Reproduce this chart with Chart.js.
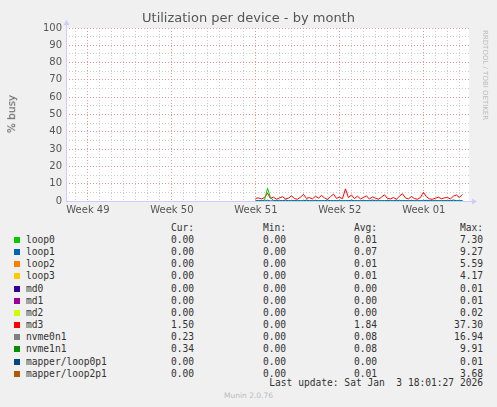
<!DOCTYPE html>
<html><head><meta charset="utf-8">
<script src="https://cdn.jsdelivr.net/npm/chart.js@4"></script>
<style>
body{margin:0;background:#f0f0f0;width:497px;height:407px;overflow:hidden;position:relative;font-family:"DejaVu Sans",sans-serif}
#wrap{position:absolute;left:0;top:0;width:497px;height:219px}
.t{position:absolute;white-space:pre;font-family:"DejaVu Sans Mono",monospace;font-size:9.6px;color:#333;line-height:12px}
.sq{position:absolute;width:6px;height:6px}
</style></head><body>
<div id="wrap"><canvas id="c"></canvas></div>
<div style="position:absolute;left:0;width:497px;top:10px;text-align:center;font-size:13px;color:#555">Utilization per device - by month</div>
<div style="position:absolute;left:-8px;top:108px;transform:rotate(-90deg);font-size:10.5px;color:#555">% busy</div>
<div style="position:absolute;left:481px;top:30px;writing-mode:vertical-rl;font-size:7px;color:#bbb">RRDTOOL / TOBI OETIKER</div>
<div id="leg"></div>
<div class="t" style="left:0;width:483px;text-align:right;top:377px">Last update: Sat Jan  3 18:01:27 2026</div>
<div style="position:absolute;left:0;width:497px;text-align:center;top:391px;font-size:7.5px;color:#bbb">Munin 2.0.76</div>
<script>
const devices=["loop0","loop1","loop2","loop3","md0","md1","md2","md3","nvme0n1","nvme1n1","mapper/loop0p1","mapper/loop2p1"];
const colors=["#00cc00","#0066b3","#ff8000","#ffcc00","#330099","#990099","#ccff00","#ff0000","#808080","#008f00","#00487d","#b35a00"];
const cur=["0.00","0.00","0.00","0.00","0.00","0.00","0.00","1.50","0.23","0.34","0.00","0.00"];
const mins=["0.00","0.00","0.00","0.00","0.00","0.00","0.00","0.00","0.00","0.00","0.00","0.00"];
const avgs=["0.01","0.07","0.01","0.01","0.00","0.00","0.00","1.84","0.08","0.08","0.00","0.01"];
const maxs=["7.30","9.27","5.59","4.17","0.01","0.01","0.02","37.30","16.94","9.91","0.01","3.68"];
const weekLabels=["Week 49","Week 50","Week 51","Week 52","Week 01"];
const weekDays=[1.83,8.83,15.83,22.83,29.83];
const startDay=15.8, stepDay=0.25;
const md3=[1.5,1.8,1.2,2.0,4.5,1.5,2.2,1.0,1.8,2.5,1.2,1.6,3.0,1.4,1.0,2.2,3.8,1.5,2.0,1.2,2.8,1.6,3.2,1.8,1.0,2.5,4.0,1.5,2.2,1.3,7.0,2.0,3.5,1.4,2.8,1.2,2.0,3.0,1.1,2.4,1.6,1.0,2.2,3.6,1.5,1.2,2.0,1.0,2.8,4.2,1.8,1.2,2.6,1.4,1.0,2.0,5.0,2.5,1.2,1.0,1.6,2.2,1.3,1.8,2.0,1.2,2.8,3.5,2.0,3.8];
const loop0=[0.2,0.3,0.2,0.5,7.3,2.0,0.3,0.2,0.2,0.3,0.2,0.2,0.2,0.3,0.2,0.2,0.2,0.4,0.2,0.2,0.2,0.3,0.2,0.2,0.2,0.2,0.3,0.2,0.2,0.2,0.2,0.3,0.2,0.2,0.2,0.2,0.2,0.3,0.2,0.2,0.2,0.2,0.2,0.2,0.3,0.2,0.2,0.2,0.2,0.2,0.3,0.2,0.2,0.2,0.2,0.2,0.2,0.3,0.2,0.2,0.2,0.2,0.2,0.2,0.3,0.2,0.2,0.2,0.2,0.2];
const loop1=[0.1,0.1,0.2,0.1,0.3,0.1,0.1,0.2,0.1,0.1,0.6,0.1,0.1,0.2,0.1,0.1,0.1,0.5,0.1,0.1,0.2,0.1,0.1,0.1,0.6,0.1,0.1,0.2,0.1,0.1,0.1,0.1,0.5,0.1,0.1,0.1,0.2,0.1,0.1,0.6,0.1,0.1,0.1,0.1,0.2,0.1,0.1,0.5,0.1,0.1,0.1,0.1,0.2,0.1,0.1,0.1,0.1,0.4,0.1,0.1,0.1,0.1,0.1,0.2,0.1,0.1,0.6,0.1,0.1,0.2];
const pts=a=>a.map((v,i)=>({x:startDay+i*stepDay,y:v}));
const ds=[["loop1",loop1],["loop0",loop0],["md3",md3]].map(([n,a])=>({label:n,data:pts(a),borderColor:colors[devices.indexOf(n)],borderWidth:1,pointRadius:0,tension:0}));
const plotBg={id:'bg',beforeDraw(c){const a=c.chartArea,x=c.ctx;x.save();x.fillStyle='#fff';x.fillRect(a.left,a.top,a.right-a.left,a.bottom-a.top);x.restore();},
 afterDraw(c){const a=c.chartArea,x=c.ctx;x.save();x.strokeStyle='#ccccff';x.lineWidth=1;x.beginPath();x.moveTo(a.left+0.5,a.top-6);x.lineTo(a.left+0.5,a.bottom+0.5);x.lineTo(a.right+6,a.bottom+0.5);x.stroke();
 x.fillStyle='#ccccff';x.beginPath();x.moveTo(a.left-2.5,a.top-3);x.lineTo(a.left+3.5,a.top-3);x.lineTo(a.left+0.5,a.top-8);x.fill();
 x.beginPath();x.moveTo(a.right+3,a.bottom-2.5);x.lineTo(a.right+3,a.bottom+3.5);x.lineTo(a.right+8,a.bottom+0.5);x.fill();x.restore();}};
new Chart(document.getElementById('c'),{type:'line',data:{datasets:ds},plugins:[plotBg],
options:{responsive:true,maintainAspectRatio:false,animation:false,
layout:{padding:{left:0,right:28,top:28,bottom:0}},
plugins:{legend:{display:false},tooltip:{enabled:false}},
scales:{
x:{type:'linear',min:0,max:33.6,
 afterBuildTicks(ax){const t=[];for(let d=weekDays[0]-1;d<33.6;d+=1){if(d>0)t.push({value:d});}ax.ticks=t;},
 ticks:{autoSkip:false,maxRotation:0,color:'#555',font:{family:'DejaVu Sans',size:10},padding:3,
  callback(v){const i=weekDays.findIndex(w=>Math.abs(w-v)<0.01);return i>=0?weekLabels[i]:'';}},
 grid:{drawTicks:false,color(c){const v=c.tick&&c.tick.value;return weekDays.some(w=>Math.abs(w-v)<0.01)?'rgba(230,140,140,0.9)':'rgba(200,200,200,0.9)';}},
 border:{display:false,dash:[1,2]}},
y:{min:0,max:100,afterFit(ax){ax.width=66;},
 ticks:{stepSize:5,autoSkip:false,color:'#555',font:{family:'DejaVu Sans',size:10},padding:4,callback:v=>v%10===0?v:''},
 grid:{drawTicks:false,color:c=>c.tick.value%10===0?'rgba(230,140,140,0.9)':'rgba(200,200,200,0.9)'},
 border:{display:false,dash:[1,2]}}}}});
let h='';const y0=228,dy=12.15;
const hdr=(s,r,y)=>`<div class="t" style="right:${497-r}px;top:${y}px">${s}</div>`;
h+=hdr('Cur:',194,y0-6)+hdr('Min:',286,y0-6)+hdr('Avg:',377,y0-6)+hdr('Max:',483,y0-6);
devices.forEach((d,i)=>{const y=y0+6+i*dy;
 h+=`<div class="sq" style="left:14px;top:${y+3}px;background:${colors[i]}"></div><div class="t" style="left:26px;top:${y}px">${d}</div>`;
 h+=hdr(cur[i],194,y)+hdr(mins[i],286,y)+hdr(avgs[i],377,y)+hdr(maxs[i],483,y);});
document.getElementById('leg').innerHTML=h;
</script></body></html>
